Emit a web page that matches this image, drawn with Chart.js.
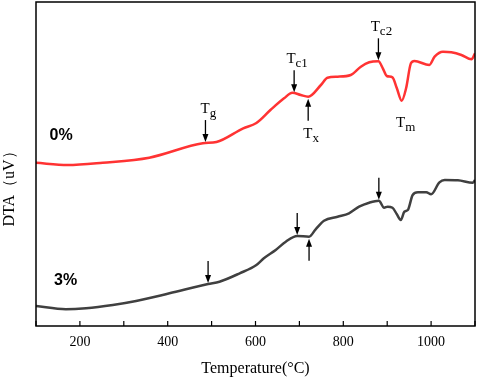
<!DOCTYPE html>
<html>
<head>
<meta charset="utf-8">
<script src="https://cdn.jsdelivr.net/npm/chart.js@4.4.0/dist/chart.umd.min.js"></script>
<style>
  html, body { margin: 0; padding: 0; background: #fff; }
  #wrap { width: 477px; height: 378px; }
</style>
</head>
<body>
<div id="wrap"><canvas id="dta"></canvas></div>
<script>
// temperature (°C) and DTA signal (arbitrary offset units)
const temp0 = [100, 172, 252, 358, 480, 511, 572, 602, 634, 665, 684, 703, 720, 749, 764, 787, 817, 840, 859, 880, 890, 899, 912, 922, 933, 943, 954, 962, 996, 1008, 1027, 1046, 1069, 1092, 1100];
const dta0 = [163.3, 161, 163.3, 168.3, 182.7, 184, 197.7, 203, 216, 227.7, 233.3, 231, 229.3, 241, 248.3, 249.3, 251, 259.3, 263.7, 264.7, 257.7, 250, 248.7, 237.7, 225.3, 237.7, 262.7, 265, 261, 269.3, 274.3, 273.7, 271, 266.7, 272.7];

const temp3 = [100, 168, 214, 275, 328, 404, 492, 518, 564, 602, 619, 646, 669, 695, 722, 737, 756, 787, 813, 836, 859, 881, 893, 901, 912, 922, 931, 939, 947, 958, 970, 989, 1000, 1019, 1031, 1061, 1095, 1100];
const dta3 = [20, 16.7, 17.7, 21, 25, 32.7, 42, 44.3, 52.7, 61, 67.7, 76, 84.3, 90, 89.3, 96.7, 105.3, 109.3, 112.7, 119.3, 123.3, 125.3, 118.3, 119.3, 118.3, 111.7, 106, 114.3, 116, 131, 133.7, 133.7, 131.7, 143.7, 146, 145.7, 143.3, 146];

// characteristic temperatures marked with arrows
const marks0 = [486, 688, 720, 880];
const marks3 = [492, 695, 722, 881];
const markDirs = ['down', 'down', 'up', 'down'];
const markNames = ['T', 'T', 'T', 'T'];
const markSubs = ['g', 'c1', 'x', 'c2'];
const meltTemp = 933;

const seriesNames = ['0%', '3%'];
const yTitle = 'DTA（uV）';

function toPts(xs, ys) {
  return xs.map((x, i) => ({ x: x, y: ys[i] }));
}

function valueAt(xs, ys, t) {
  for (let i = 0; i < xs.length - 1; i++) {
    if (t >= xs[i] && t <= xs[i + 1]) {
      const f = (t - xs[i]) / (xs[i + 1] - xs[i]);
      return ys[i] + f * (ys[i + 1] - ys[i]);
    }
  }
  return ys[ys.length - 1];
}

const SERIF = '"Liberation Serif", "Times New Roman", serif';

function drawSubLabel(ctx, name, sub, cx, baseY) {
  ctx.font = '15px ' + SERIF;
  const w1 = ctx.measureText(name).width;
  ctx.font = '13px ' + SERIF;
  const w2 = ctx.measureText(sub).width;
  const x0 = cx - (w1 + w2) / 2;
  ctx.textAlign = 'left';
  ctx.textBaseline = 'alphabetic';
  ctx.font = '15px ' + SERIF;
  ctx.fillText(name, x0, baseY);
  ctx.font = '13px ' + SERIF;
  ctx.fillText(sub, x0 + w1, baseY + 4);
}

function drawArrow(ctx, x, yFrom, yTip) {
  const d = yTip > yFrom ? 1 : -1;
  ctx.beginPath();
  ctx.moveTo(x, yFrom);
  ctx.lineTo(x, yTip - d * 6);
  ctx.lineWidth = 1.3;
  ctx.stroke();
  ctx.beginPath();
  ctx.moveTo(x, yTip);
  ctx.lineTo(x - 3, yTip - d * 8);
  ctx.lineTo(x + 3, yTip - d * 8);
  ctx.closePath();
  ctx.fill();
}

const decor = {
  id: 'decor',
  afterDatasetsDraw(chart) {
    const ctx = chart.ctx;
    const xs = chart.scales.x, ys = chart.scales.y;
    const a = chart.chartArea;
    ctx.save();
    ctx.strokeStyle = '#000';
    ctx.fillStyle = '#000';

    // frame and inward ticks
    ctx.lineWidth = 1.5;
    ctx.strokeRect(a.left, a.top, a.right - a.left, a.bottom - a.top);
    ctx.lineWidth = 1.2;
    xs.ticks.forEach(t => {
      const px = xs.getPixelForValue(t.value);
      ctx.beginPath();
      ctx.moveTo(px, a.bottom);
      ctx.lineTo(px, a.bottom - 5);
      ctx.stroke();
    });

    // y title
    ctx.save();
    ctx.translate(10, 185);
    ctx.rotate(-Math.PI / 2);
    ctx.font = '16px ' + SERIF;
    ctx.textAlign = 'center';
    ctx.textBaseline = 'middle';
    ctx.fillText(yTitle, 0, 0);
    ctx.restore();

    // arrows
    const sets = [[marks0, temp0, dta0, true], [marks3, temp3, dta3, false]];
    sets.forEach(([marks, tx, ty, labelled]) => {
      marks.forEach((m, i) => {
        const px = xs.getPixelForValue(m);
        const py = ys.getPixelForValue(valueAt(tx, ty, m));
        if (markDirs[i] === 'down') {
          const tip = py - 1;
          drawArrow(ctx, px, tip - 22, tip);
          if (labelled) drawSubLabel(ctx, markNames[i], markSubs[i], px + 3, tip - 29);
        } else {
          const tip = py + 2;
          drawArrow(ctx, px, tip + 22, tip);
          if (labelled) drawSubLabel(ctx, markNames[i], markSubs[i], px + 3, tip + 39);
        }
      });
    });

    // melting label
    const mx = xs.getPixelForValue(meltTemp);
    const my = ys.getPixelForValue(valueAt(temp0, dta0, meltTemp));
    drawSubLabel(ctx, 'T', 'm', mx + 4, my + 26);

    // series labels
    ctx.font = 'bold 16px "Liberation Sans", Arial, sans-serif';
    ctx.textAlign = 'left';
    ctx.textBaseline = 'alphabetic';
    ctx.fillText(seriesNames[0], xs.getPixelForValue(131), ys.getPixelForValue(186));
    ctx.fillText(seriesNames[1], xs.getPixelForValue(141), ys.getPixelForValue(41));
    ctx.restore();
  }
};

new Chart(document.getElementById('dta'), {
  type: 'line',
  data: {
    datasets: [
      { label: seriesNames[0], data: toPts(temp0, dta0), borderColor: '#ff3333', borderWidth: 2.5, pointRadius: 0, cubicInterpolationMode: 'monotone', fill: false },
      { label: seriesNames[1], data: toPts(temp3, dta3), borderColor: '#404040', borderWidth: 2.5, pointRadius: 0, cubicInterpolationMode: 'monotone', fill: false }
    ]
  },
  options: {
    responsive: true,
    maintainAspectRatio: false,
    animation: false,
    layout: { padding: { top: 2, right: 2, left: 0, bottom: 0 } },
    plugins: { legend: { display: false }, tooltip: { enabled: false } },
    scales: {
      x: {
        type: 'linear',
        min: 100,
        max: 1100,
        grid: { display: false, drawTicks: false },
        border: { display: false },
        ticks: {
          stepSize: 100,
          padding: 8,
          color: '#000',
          font: { family: SERIF, size: 14 },
          callback: v => (v % 200 === 0 ? v : '')
        },
        title: {
          display: true,
          text: 'Temperature(°C)',
          color: '#000',
          font: { family: SERIF, size: 16 },
          padding: { top: 2, bottom: 0 }
        },
        afterFit: s => { s.height = 52; s.paddingLeft = 0; s.paddingRight = 0; }
      },
      y: {
        min: 0,
        max: 324,
        grid: { display: false, drawTicks: false },
        border: { display: false },
        ticks: { display: false },
        afterFit: s => { s.width = 36; }
      }
    }
  },
  plugins: [decor]
});
</script>
</body>
</html>
